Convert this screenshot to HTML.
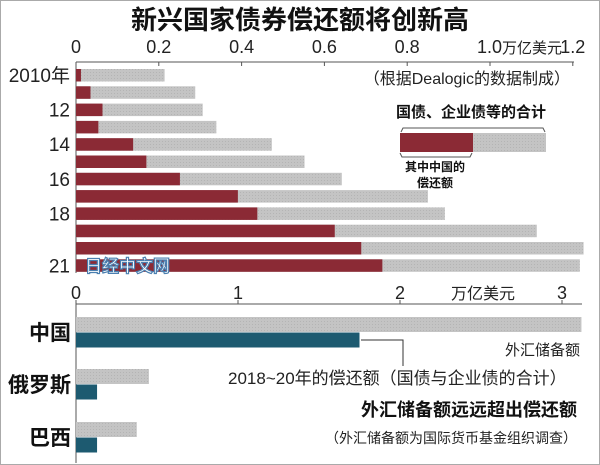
<!DOCTYPE html>
<html><head><meta charset="utf-8"><style>
body{margin:0;background:#fff}
svg{display:block;font-family:"Liberation Sans","Noto Sans CJK SC",sans-serif}
</style></head><body>
<svg id="c" width="600" height="465" viewBox="0 0 600 465">
<defs>
<pattern id="hatch" width="3" height="3" patternUnits="userSpaceOnUse"><rect width="3" height="3" fill="#c4c4c4"/><rect width="1" height="1" fill="#b4b4b4"/></pattern>
</defs>
<rect x="0.5" y="0.5" width="599" height="464" fill="#fff" stroke="#aaa"/>
<text x="300" y="29" text-anchor="middle" font-size="26" font-weight="bold" fill="#111">新兴国家债券偿还额将创新高</text>
<g id="topG"></g>
<g id="botG"></g>
<text x="570" y="84" text-anchor="end" font-size="16" fill="#222">（根据Dealogic的数据制成）</text>
<text x="471" y="117" text-anchor="middle" font-size="15" font-weight="bold" fill="#111">国债、企业债等的合计</text>
<path d="M401,132 l2,-4 H543 l2,4" fill="none" stroke="#555"/>
<rect x="400" y="133" width="73" height="19" fill="#8b2a35"/>
<rect x="473" y="133" width="73" height="19" fill="url(#hatch)"/>
<path d="M400,153 l2,4 H470 l2,-4" fill="none" stroke="#555"/>
<text x="435" y="171" text-anchor="middle" font-size="12" font-weight="bold" fill="#111">其中中国的</text>
<text x="435" y="187" text-anchor="middle" font-size="12" font-weight="bold" fill="#111">偿还额</text>
<path d="M361,340 H403 V366" fill="none" stroke="#333"/>
<text x="580" y="355" text-anchor="end" font-size="15" fill="#222">外汇储备额</text>
<text x="228" y="384" font-size="17" fill="#222">2018~20年的偿还额（国债与企业债的合计）</text>
<text x="577" y="416" text-anchor="end" font-size="18" font-weight="bold" fill="#111">外汇储备额远远超出偿还额</text>
<text x="577" y="443" text-anchor="end" font-size="14" fill="#222">（外汇储备额为国际货币基金组织调查）</text>
<text x="85" y="272" font-size="17" font-weight="bold" fill="#fff" stroke="#4a7fb0" stroke-width="1.2">日经中文网</text>
</svg>
<script>
const years=["2010年","","12","","14","","16","","18","","","21"];
const chinaRepay=[0.012,0.035,0.064,0.054,0.138,0.17,0.251,0.391,0.438,0.625,0.689,0.74];
const totalRepay=[0.214,0.288,0.306,0.339,0.473,0.552,0.642,0.85,0.891,1.113,1.226,1.217];
const topTicks=["0","0.2","0.4","0.6","0.8","1.0","1.2"];
const topTickVals=[0,0.2,0.4,0.6,0.8,1.0,1.2];
const countries=["中国","俄罗斯","巴西"];
const reserves=[3.12,0.45,0.375];
const repay1820=[1.75,0.13,0.13];
const botTicks=["0","1","2","3"];
const botTickVals=[0,1,2,3];
const NS="http://www.w3.org/2000/svg";
function mk(p,t,a){const e=document.createElementNS(NS,t);for(const k in a)e.setAttribute(k,a[k]);p.appendChild(e);return e;}
const topG=document.getElementById('topG'),botG=document.getElementById('botG');
const xT=v=>76+v*414, yT=i=>69+i*17.3;
let e=mk(topG,'line',{x1:76,y1:62,x2:574,y2:62,stroke:'#555'});


e=mk(topG,'line',{x1:76,y1:62,x2:76,y2:273,stroke:'#555'});


topTickVals.forEach((v,i)=>{
 let l=mk(topG,'line',{x1:xT(v),y1:62,x2:xT(v),y2:66,stroke:'#555'});
 
 
 let t=mk(topG,'text',{x:xT(v),y:53,'text-anchor':'middle','font-size':18,fill:'#222'});
 t.textContent=topTicks[i];
 if(i===5){t.setAttribute('text-anchor','start');t.setAttribute('x',xT(v)-13);
  const s=document.createElementNS(NS,'tspan');s.setAttribute('font-size',15);s.textContent='万亿美元';t.appendChild(s);}
 
 
});
years.forEach((y,i)=>{
 let g=mk(topG,'rect',{x:76,y:yT(i),width:xT(totalRepay[i])-76,height:12.5,fill:'url(#hatch)'});
 
 
 let r=mk(topG,'rect',{x:76,y:yT(i),width:xT(chinaRepay[i])-76,height:12.5,fill:'#8b2a35'});
 
 
 if(y){let t=mk(topG,'text',{x:70,y:yT(i)+13,'text-anchor':'end','font-size':19,fill:'#222'});
 t.textContent=y;
 
 }
});
const xB=v=>76+v*162;
e=mk(botG,'line',{x1:76,y1:304,x2:582,y2:304,stroke:'#555'});


e=mk(botG,'line',{x1:76,y1:304,x2:76,y2:463,stroke:'#555'});


botTickVals.forEach((v,i)=>{
 let l=mk(botG,'line',{x1:xB(v),y1:304,x2:xB(v),y2:300,stroke:'#555'});
 
 
 let t=mk(botG,'text',{x:xB(v),y:299,'text-anchor':'middle','font-size':18,fill:'#222'});
 t.textContent=botTicks[i];
 
 
});
e=mk(botG,'text',{x:483,y:299,'text-anchor':'middle','font-size':16,fill:'#222'});
e.textContent='万亿美元';


const cy=[317,369,422];
countries.forEach((c,i)=>{
 let g=mk(botG,'rect',{x:76,y:cy[i],width:xB(reserves[i])-76,height:15,fill:'url(#hatch)'});
 
 
 let b=mk(botG,'rect',{x:76,y:cy[i]+15.5,width:xB(repay1820[i])-76,height:15,fill:'#1d5a70'});
 
 
 let t=mk(botG,'text',{x:71,y:cy[i]+23,'text-anchor':'end','font-size':21,'font-weight':'bold',fill:'#111'});
 t.textContent=c;
 
 
});
</script>
</body></html>
